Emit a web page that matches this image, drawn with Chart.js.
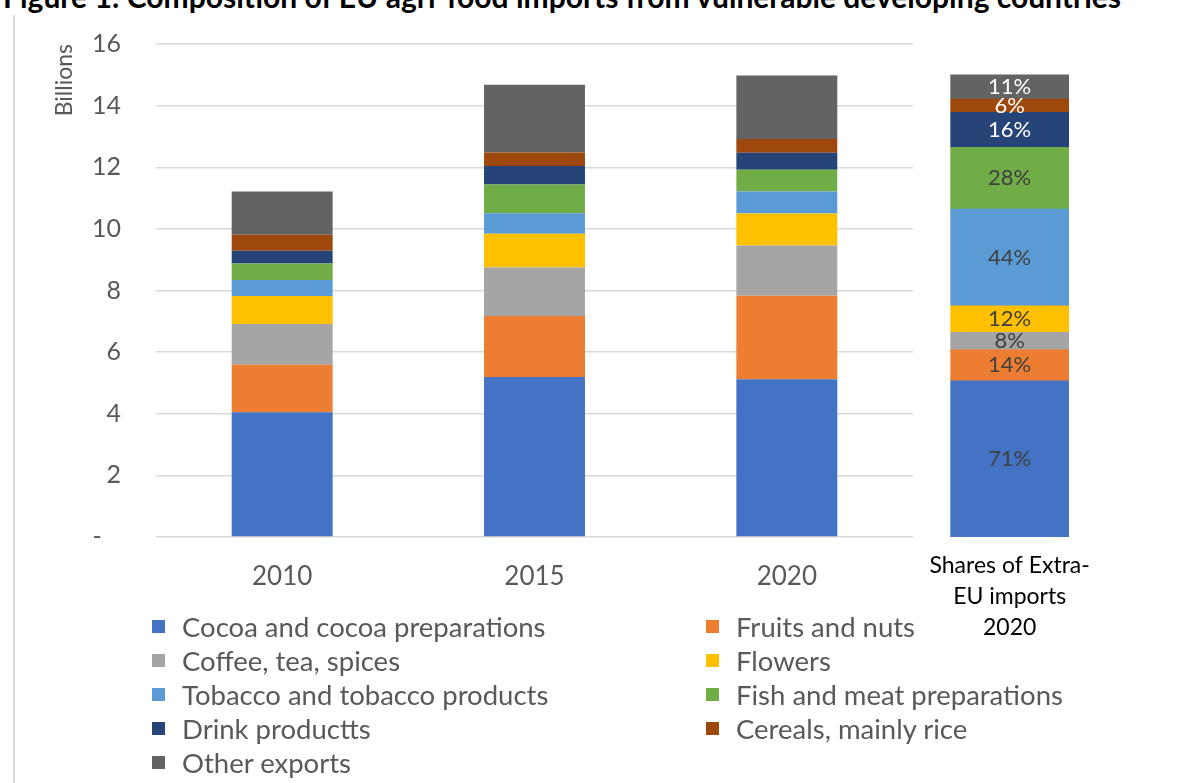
<!DOCTYPE html>
<html>
<head>
<meta charset="utf-8">
<script src="https://cdn.jsdelivr.net/npm/chart.js@4"></script>
<style>
  body { margin: 0; background: #fff; }
  #wrap { position: relative; width: 1200px; height: 783px; overflow: hidden; font-family: Lato, sans-serif; }
  #title { position: absolute; left: 3px; top: -19px; font-weight: bold; font-size: 30px; line-height: 30px; white-space: nowrap; color: #000; }
  #frame { position: absolute; left: 13px; top: 15px; width: 2px; height: 770px; background: #d9d9d9; }
  #mainChart { position: absolute; left: 0; top: 0; }
  #shareChart { position: absolute; left: 900px; top: 0; }
  #legend { position: absolute; left: 152px; top: 609px; display: grid; grid-template-columns: 554px auto; grid-auto-rows: 34px; }
  .item { display: flex; align-items: center; font-size: 27.5px; color: #595959; white-space: nowrap; }
  .box { width: 13px; height: 13px; margin-right: 17px; flex: none; }
</style>
</head>
<body>
<div id="wrap">
  <div id="title">Figure 1: Composition of EU agri-food imports from vulnerable developing countries</div>
  <div id="frame"></div>
  <canvas id="mainChart" width="930" height="600"></canvas>
  <canvas id="shareChart" width="300" height="680"></canvas>
  <div id="legend"></div>
</div>
<script>
const years = ['2010', '2015', '2020'];
const seriesNames = [
  'Cocoa and cocoa preparations',
  'Fruits and nuts',
  'Coffee, tea, spices',
  'Flowers',
  'Tobacco and tobacco products',
  'Fish and meat preparations',
  'Drink productts',
  'Cereals, mainly rice',
  'Other exports'
];

// imports in billions, one value per year
const cocoa    = [4.05, 5.19, 5.12];
const fruits   = [1.54, 1.98, 2.71];
const coffee   = [1.32, 1.58, 1.63];
const flowers  = [0.91, 1.09, 1.04];
const tobacco  = [0.52, 0.67, 0.71];
const fishMeat = [0.54, 0.93, 0.71];
const drinks   = [0.41, 0.60, 0.55];
const cereals  = [0.52, 0.44, 0.45];
const other    = [1.40, 2.20, 2.06];
const seriesValues = [cocoa, fruits, coffee, flowers, tobacco, fishMeat, drinks, cereals, other];

// share of extra-EU imports in 2020 (%), same order as seriesNames
const shares2020 = [71, 14, 8, 12, 44, 28, 16, 6, 11];
const shareCategory = ['Shares of Extra-', 'EU imports', '2020'];

const colors = ['#4472C4', '#ED7D31', '#A5A5A5', '#FFC000', '#5B9BD5', '#70AD47', '#264478', '#9E480E', '#636363'];
const shareTextColors = ['#404040', '#404040', '#404040', '#404040', '#404040', '#404040', '#fff', '#fff', '#fff'];

Chart.defaults.font.family = 'Lato, sans-serif';
Chart.defaults.color = '#595959';

const mainChart = new Chart(document.getElementById('mainChart'), {
  type: 'bar',
  data: {
    labels: years,
    datasets: seriesNames.map((name, i) => ({
      label: name,
      data: seriesValues[i],
      backgroundColor: colors[i],
      barPercentage: 0.4,
      categoryPercentage: 1
    }))
  },
  options: {
    responsive: false,
    animation: false,
    layout: { padding: { left: 0, top: 44, right: 17, bottom: 0 } },
    plugins: { legend: { display: false }, tooltip: { enabled: false } },
    scales: {
      x: {
        stacked: true,
        grid: { display: false },
        border: { display: false },
        ticks: { font: { size: 26 }, padding: 16, maxRotation: 0 },
        afterFit: s => { s.height = 63; }
      },
      y: {
        stacked: true,
        min: 0,
        max: 16,
        grid: { color: '#d9d9d9', lineWidth: 1.5, drawTicks: false },
        border: { display: false },
        ticks: {
          stepSize: 2,
          font: { size: 25 },
          padding: 35,
          callback: v => (v === 0 ? '-   ' : v)
        },
        title: {
          display: true,
          text: 'Billions',
          align: 'end',
          font: { size: 23 },
          padding: { top: 51, bottom: 0 }
        },
        afterFit: s => {
          // fixed axis width; the wide tick padding must not push the plot down
          s.width = 156;
          s.paddingTop = 0;
          s.paddingBottom = 0;
        }
      }
    }
  }
});

// percentage written in the middle of each segment of the share bar
const shareLabels = {
  id: 'shareLabels',
  afterDatasetsDraw(chart) {
    const ctx = chart.ctx;
    ctx.save();
    ctx.font = '22px Lato, sans-serif';
    ctx.textAlign = 'center';
    ctx.textBaseline = 'middle';
    chart.data.datasets.forEach((ds, i) => {
      const bar = chart.getDatasetMeta(i).data[0];
      ctx.fillStyle = shareTextColors[i];
      ctx.fillText(ds.data[0] + '%', bar.x, (bar.y + bar.base) / 2);
    });
    ctx.restore();
  }
};

new Chart(document.getElementById('shareChart'), {
  type: 'bar',
  data: {
    labels: [shareCategory],
    datasets: seriesNames.map((name, i) => ({
      label: name,
      data: [shares2020[i]],
      backgroundColor: colors[i],
      barPercentage: 1,
      categoryPercentage: 1
    }))
  },
  options: {
    responsive: false,
    animation: false,
    layout: { padding: { left: 49, top: 44, right: 131, bottom: 0 } },
    plugins: { legend: { display: false }, tooltip: { enabled: false } },
    scales: {
      x: {
        stacked: true,
        grid: { display: false },
        border: { display: false },
        ticks: { color: '#000', font: { size: 23, lineHeight: 1.35 }, padding: 5, maxRotation: 0, minRotation: 0, autoSkip: false },
        afterFit: s => { s.height = 143; }
      },
      y: { stacked: true, display: false, min: 0, max: 224 }
    }
  },
  plugins: [shareLabels]
});

// two-column legend under the chart
const legend = document.getElementById('legend');
mainChart.data.datasets.forEach(ds => {
  const item = document.createElement('div');
  item.className = 'item';
  const box = document.createElement('span');
  box.className = 'box';
  box.style.background = ds.backgroundColor;
  item.appendChild(box);
  item.appendChild(document.createTextNode(ds.label));
  legend.appendChild(item);
});
</script>
</body>
</html>
